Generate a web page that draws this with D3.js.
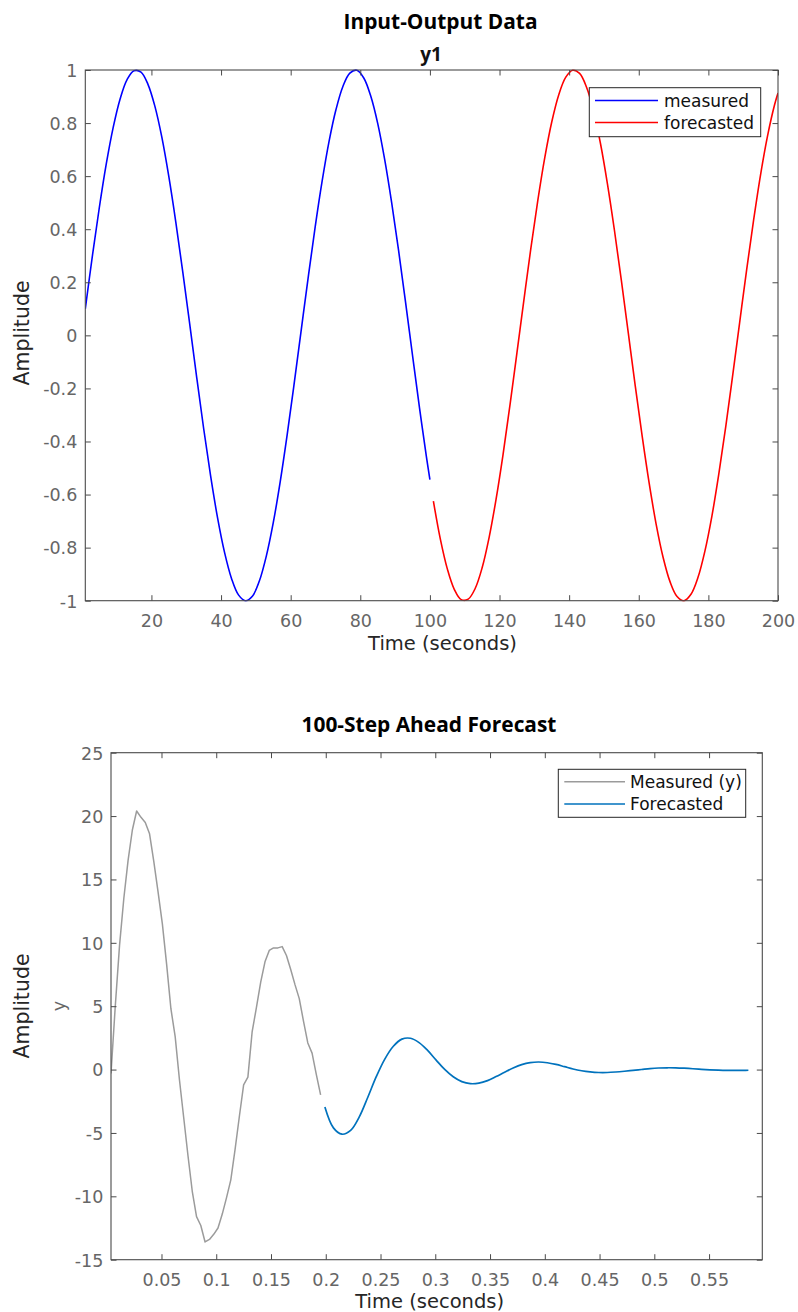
<!DOCTYPE html>
<html>
<head>
<meta charset="utf-8">
<script src="https://cdn.jsdelivr.net/npm/d3@7"></script>
<style>
  html, body { margin: 0; padding: 0; background: #fff; }
  svg { display: block; }
</style>
</head>
<body>
<svg id="fig" width="798" height="1312"></svg>
<script>
// ---------- Input-Output Data (top panel) ----------
const ioXTicks = [20, 40, 60, 80, 100, 120, 140, 160, 180, 200];
const ioYTicks = [-1, -0.8, -0.6, -0.4, -0.2, 0, 0.2, 0.4, 0.6, 0.8, 1];

// measured output y1, [time (s), amplitude]
const ioMeasured = [
  [1,0.100],[3,0.296],[5,0.479],[7,0.644],[9,0.783],[11,0.891],[13,0.964],[15,0.997],
  [17,0.992],[19,0.946],[21,0.863],[23,0.746],[25,0.598],[27,0.427],[29,0.239],[31,0.042],
  [33,-0.158],[35,-0.351],[37,-0.530],[39,-0.688],[41,-0.818],[43,-0.916],[45,-0.978],[47,-1.000],
  [49,-0.983],[51,-0.926],[53,-0.832],[55,-0.706],[57,-0.551],[59,-0.374],[61,-0.182],[63,0.017],
  [65,0.215],[67,0.405],[69,0.578],[71,0.729],[73,0.850],[75,0.938],[77,0.988],[79,0.999],
  [81,0.970],[83,0.902],[85,0.799],[87,0.663],[89,0.501],[91,0.320],[93,0.125],[95,-0.075],
  [97,-0.272],[99,-0.458],[100,-0.544]
];

// forecasted output y1, [time (s), amplitude]
const ioForecast = [
  [101,-0.625],[103,-0.768],[105,-0.880],[107,-0.957],[109,-0.996],[111,-0.994],[113,-0.954],
  [115,-0.876],[117,-0.762],[119,-0.618],[121,-0.450],[123,-0.263],[125,-0.066],[127,0.133],
  [129,0.328],[131,0.509],[133,0.670],[135,0.804],[137,0.906],[139,0.972],[141,0.999],
  [143,0.987],[145,0.935],[147,0.846],[149,0.723],[151,0.571],[153,0.397],[155,0.207],
  [157,0.008],[159,-0.191],[161,-0.382],[163,-0.558],[165,-0.712],[167,-0.837],[169,-0.929],
  [171,-0.984],[173,-1.000],[175,-0.976],[177,-0.913],[179,-0.813],[181,-0.682],[183,-0.522],
  [185,-0.343],[187,-0.149],[189,0.050],[191,0.248],[193,0.435],[195,0.606],[197,0.752],
  [199,0.868],[200,0.913]
];

// ---------- 100-Step Ahead Forecast (bottom panel) ----------
const fcXTicks = [0.05, 0.1, 0.15, 0.2, 0.25, 0.3, 0.35, 0.4, 0.45, 0.5, 0.55];
const fcYTicks = [-15, -10, -5, 0, 5, 10, 15, 20, 25];

// measured samples
const fcMeasuredT = [
  0.0039,0.0078,0.0117,0.0156,0.0195,0.0234,0.0273,0.0313,0.0352,0.0391,
  0.0430,0.0469,0.0508,0.0547,0.0586,0.0625,0.0664,0.0703,0.0742,0.0781,
  0.0820,0.0859,0.0898,0.0938,0.0977,0.1016,0.1055,0.1094,0.1133,0.1172,
  0.1211,0.1250,0.1289,0.1328,0.1367,0.1406,0.1445,0.1484,0.1523,0.1563,
  0.1602,0.1641,0.1680,0.1719,0.1758,0.1797,0.1836,0.1875,0.1914,0.1953
];
const fcMeasuredY = [
  -0.3, 5.0, 9.8, 13.5, 16.5, 18.9, 20.4, 19.9, 19.5, 18.6,
  16.4, 14.0, 11.5, 8.3, 4.8, 2.6, -0.8, -3.8, -6.8, -9.6,
  -11.6, -12.3, -13.6, -13.4, -13.0, -12.5, -11.4, -10.1, -8.7, -6.3,
  -3.7, -1.2, -0.6, 3.0, 4.9, 6.9, 8.5, 9.4, 9.6, 9.6,
  9.7, 9.0, 7.9, 6.7, 5.6, 3.8, 2.1, 1.3, -0.4, -2.0
];

// forecast trajectory (every second step)
const fcForecastT = [
  0.1992,0.2070,0.2148,0.2227,0.2305,0.2383,0.2461,0.2539,0.2617,0.2695,
  0.2773,0.2852,0.2930,0.3008,0.3086,0.3164,0.3242,0.3320,0.3398,0.3477,
  0.3555,0.3633,0.3711,0.3789,0.3867,0.3945,0.4023,0.4102,0.4180,0.4258,
  0.4336,0.4414,0.4492,0.4570,0.4648,0.4727,0.4805,0.4883,0.4961,0.5039,
  0.5117,0.5195,0.5273,0.5352,0.5430,0.5508,0.5586,0.5664,0.5742,0.5820,
  0.5859
];
const fcForecastY = [
  -2.95, -4.6, -5.1, -4.8, -3.75, -2.2, -0.56, 0.83, 1.84, 2.40,
  2.47, 2.13, 1.51, 0.75, 0.01, -0.57, -0.95, -1.11, -1.07, -0.87,
  -0.55, -0.21, 0.12, 0.39, 0.55, 0.596, 0.54, 0.406, 0.228, 0.046,
  -0.09, -0.18, -0.23, -0.23, -0.19, -0.13, -0.06, 0.008, 0.078, 0.125,
  0.142, 0.135, 0.107, 0.066, 0.022, -0.018, -0.048, -0.066, -0.069, -0.062,
  -0.054
];

// ---------- drawing ----------
const SANS = "'DejaVu Sans', 'Liberation Sans', sans-serif";
const BOLD = "'Open Sans', 'Liberation Sans', sans-serif";
const AXIS = "#4a4a4a";
const TICKTXT = "#666666";
const LABEL = "#262626";
const TICK_FS = 17.5;
const svg = d3.select("#fig");
svg.append("rect").attr("width", 798).attr("height", 1312).attr("fill", "#fff");

function fmt(d) { return String(d); }

function drawPanel(p) {
  const x = d3.scaleLinear().domain(p.xDomain).range([p.left, p.right]);
  const y = d3.scaleLinear().domain(p.yDomain).range([p.bottom, p.top]);
  const g = svg.append("g");
  const clipId = "clip-" + p.id;
  svg.append("clipPath").attr("id", clipId)
    .append("rect").attr("x", p.left).attr("y", p.top - 1)
    .attr("width", p.right - p.left).attr("height", p.bottom - p.top + 2);

  // series
  const plot = g.append("g").attr("clip-path", `url(#${clipId})`);
  p.series.forEach(s => {
    const line = d3.line().x(d => x(d[0])).y(d => y(d[1])).curve(s.curve || d3.curveLinear);
    plot.append("path").datum(s.data)
      .attr("fill", "none").attr("stroke", s.color).attr("stroke-width", s.width)
      .attr("stroke-linejoin", "round").attr("stroke-linecap", "butt")
      .attr("d", line);
  });

  // ticks, inward on all four sides
  const tl = 5.5;
  const bottomAx = g.append("g").attr("transform", `translate(0,${p.bottom})`)
    .call(d3.axisBottom(x).tickValues(p.xTicks).tickSize(-tl).tickFormat(fmt));
  const topAx = g.append("g").attr("transform", `translate(0,${p.top})`)
    .call(d3.axisTop(x).tickValues(p.xTicks).tickSize(-tl).tickFormat(""));
  const leftAx = g.append("g").attr("transform", `translate(${p.left},0)`)
    .call(d3.axisLeft(y).tickValues(p.yTicks).tickSize(-tl).tickFormat(fmt));
  const rightAx = g.append("g").attr("transform", `translate(${p.right},0)`)
    .call(d3.axisRight(y).tickValues(p.yTicks).tickSize(-tl).tickFormat(""));
  [bottomAx, topAx, leftAx, rightAx].forEach(a => {
    a.select(".domain").remove();
    a.selectAll(".tick line").attr("stroke", AXIS).attr("stroke-width", 1);
  });
  bottomAx.selectAll(".tick text")
    .attr("y", p.xLabelOffset).attr("dy", null)
    .attr("font-family", SANS).attr("font-size", TICK_FS).attr("fill", TICKTXT);
  leftAx.selectAll(".tick text")
    .attr("x", -p.yLabelGap).attr("dy", "0.36em")
    .attr("font-family", SANS).attr("font-size", TICK_FS).attr("fill", TICKTXT);

  // frame
  g.append("rect").attr("x", p.left).attr("y", p.top)
    .attr("width", p.right - p.left).attr("height", p.bottom - p.top)
    .attr("fill", "none").attr("stroke", AXIS).attr("stroke-width", 1.1);

  // axis labels
  g.append("text").attr("x", p.xTitle[0]).attr("y", p.xTitle[1])
    .attr("text-anchor", "middle").attr("font-family", SANS).attr("font-size", 19.5)
    .attr("fill", LABEL).text("Time (seconds)");
  g.append("text")
    .attr("transform", `translate(${p.yTitle[0]},${p.yTitle[1]}) rotate(-90)`)
    .attr("text-anchor", "middle").attr("font-family", SANS).attr("font-size", 20.5)
    .attr("fill", LABEL).text("Amplitude");

  // legend
  const L = p.legend;
  const lg = g.append("g");
  lg.append("rect").attr("x", L.x0).attr("y", L.y0)
    .attr("width", L.x1 - L.x0).attr("height", L.y1 - L.y0)
    .attr("fill", "#fff").attr("stroke", "#262626").attr("stroke-width", 1);
  L.items.forEach((it, i) => {
    const yy = L.rows[i];
    lg.append("line").attr("x1", L.lx0).attr("x2", L.lx1).attr("y1", yy).attr("y2", yy)
      .attr("stroke", it.color).attr("stroke-width", it.width);
    lg.append("text").attr("x", L.tx).attr("y", yy).attr("dy", "0.36em")
      .attr("font-family", SANS).attr("font-size", 17).attr("fill", "#111")
      .text(it.label);
  });
  return { x, y, g };
}

// top panel
const ioPanel = drawPanel({
  id: "io",
  left: 85.3, right: 778, top: 70, bottom: 600.7,
  xDomain: [1, 200], yDomain: [-1, 1],
  xTicks: ioXTicks, yTicks: ioYTicks,
  xLabelOffset: 26.6, yLabelGap: 8,
  xTitle: [442.5, 649.5], yTitle: [29, 333],
  series: [
    { data: ioMeasured, color: "#0000ff", width: 1.6, curve: d3.curveCatmullRom.alpha(0.5) },
    { data: ioForecast, color: "#ff0000", width: 1.6, curve: d3.curveCatmullRom.alpha(0.5) }
  ],
  legend: {
    x0: 589.3, y0: 87.7, x1: 760.7, y1: 136.7, lx0: 595, lx1: 658, tx: 664,
    rows: [100.5, 122.5],
    items: [
      { label: "measured", color: "#0000ff", width: 1.6 },
      { label: "forecasted", color: "#ff0000", width: 1.6 }
    ]
  }
});
svg.append("text").attr("x", 440.5).attr("y", 28.5).attr("text-anchor", "middle")
  .attr("font-family", BOLD).attr("font-weight", 700).attr("font-size", 20.9)
  .attr("fill", "#000").text("Input-Output Data");
svg.append("text").attr("x", 431).attr("y", 61).attr("text-anchor", "middle")
  .attr("font-family", BOLD).attr("font-weight", 700).attr("font-size", 19)
  .attr("fill", "#111").text("y1");

// bottom panel
const measuredPts = fcMeasuredT.map((t, i) => [t, fcMeasuredY[i]]);
const forecastPts = fcForecastT.map((t, i) => [t, fcForecastY[i]]);
const fcPanel = drawPanel({
  id: "fc",
  left: 111, right: 762.3, top: 752.7, bottom: 1259.7,
  xDomain: [0.0039, 0.5986], yDomain: [-15, 25],
  xTicks: fcXTicks, yTicks: fcYTicks,
  xLabelOffset: 26.5, yLabelGap: 7.7,
  xTitle: [429.7, 1307.5], yTitle: [29, 1006],
  series: [
    { data: measuredPts, color: "#9b9b9b", width: 1.5 },
    { data: forecastPts, color: "#0072bd", width: 1.7, curve: d3.curveCatmullRom.alpha(0.5) }
  ],
  legend: {
    x0: 558.3, y0: 769.3, x1: 745.7, y1: 817.3, lx0: 564.3, lx1: 625, tx: 630,
    rows: [781.7, 804],
    items: [
      { label: "Measured (y)", color: "#9b9b9b", width: 1.5 },
      { label: "Forecasted", color: "#0072bd", width: 1.7 }
    ]
  }
});
svg.append("text").attr("x", 429).attr("y", 731.7).attr("text-anchor", "middle")
  .attr("font-family", BOLD).attr("font-weight", 700).attr("font-size", 20.9)
  .attr("fill", "#000").text("100-Step Ahead Forecast");
// output channel name beside the amplitude axis
svg.append("text")
  .attr("transform", "translate(64.5,1006) rotate(-90)")
  .attr("text-anchor", "middle").attr("font-family", SANS).attr("font-size", 17.5)
  .attr("fill", TICKTXT).text("y");
</script>
</body>
</html>
